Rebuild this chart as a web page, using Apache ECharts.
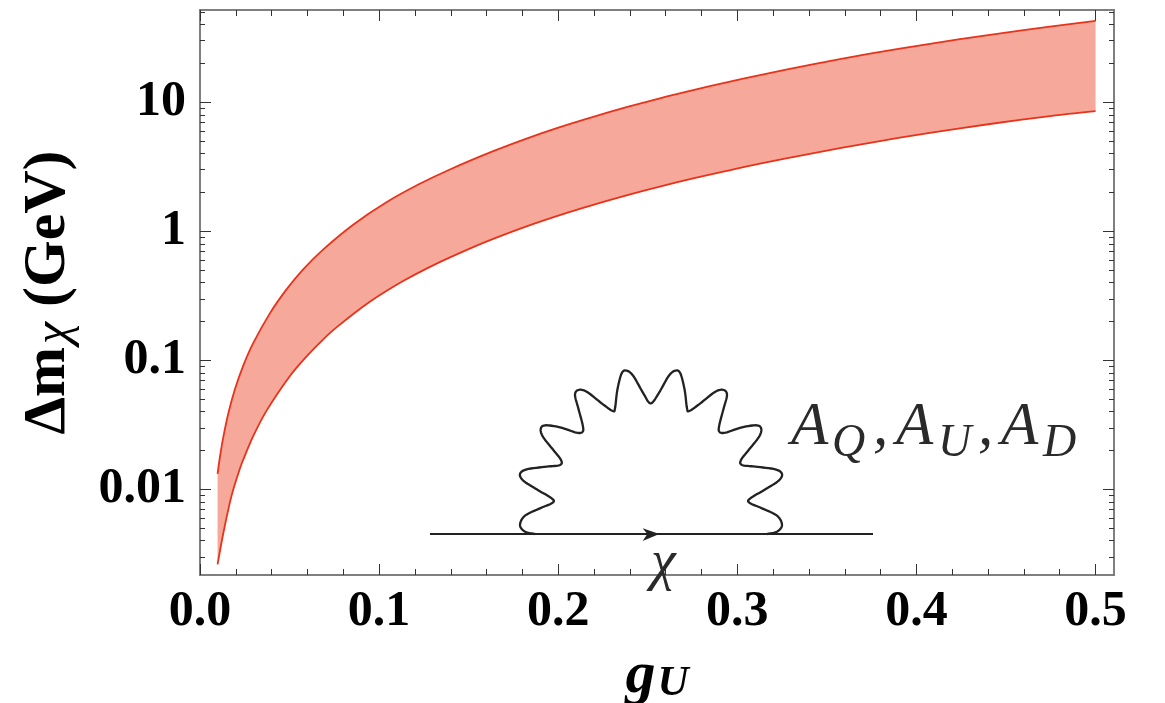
<!DOCTYPE html>
<html><head><meta charset="utf-8">
<style>html,body{margin:0;padding:0;background:#fff}#c{width:1165px;height:703px}</style>
<script src="https://cdn.jsdelivr.net/npm/echarts@6/dist/echarts.min.js"></script>
</head><body><div id="c"></div>
<script>
const upperG = [0.0098,0.0111,0.0129,0.0157,0.0194,0.0241,0.0297,0.0390,0.0483,0.0576,0.0687,0.0855,0.1041,0.1227,0.1395,0.1637,0.1823,0.2009,0.2195,0.2381,0.2567,0.2753,0.2940,0.3126,0.3405,0.3740,0.4075,0.4410,0.4745,0.5];
const upperV = [0.01316,0.01774,0.02496,0.03821,0.0591,0.0906,0.1358,0.2312,0.3546,0.5076,0.7221,1.126,1.680,2.334,3.016,4.180,5.234,6.417,7.709,9.156,10.74,12.43,14.26,16.22,19.48,23.78,28.40,33.35,38.61,42.75];
const lowerG = [0.0098,0.0129,0.0166,0.0189,0.0222,0.0241,0.0297,0.0371,0.0501,0.0585,0.0687,0.0762,0.0948,0.1134,0.1321,0.1506,0.1637,0.1823,0.2009,0.2195,0.2381,0.2567,0.2753,0.2940,0.3126,0.3405,0.3740,0.4075,0.4410,0.4745,0.5];
const lowerV = [0.00262,0.00449,0.00783,0.01032,0.01439,0.01696,0.02585,0.0406,0.0753,0.1037,0.1449,0.180,0.284,0.4115,0.5619,0.7348,0.8737,1.093,1.336,1.604,1.899,2.221,2.569,2.939,3.342,3.988,4.853,5.795,6.787,7.813,8.525];
const xMajor = [0,0.1,0.2,0.3,0.4,0.5];
const xMinor = [0.02,0.04,0.06,0.08,0.12,0.14,0.16,0.18,0.22,0.24,0.26,0.28,0.32,0.34,0.36,0.38,0.42,0.44,0.46,0.48];
const yMajor = [0.01,0.1,1,10];
const yMinor = [0.003,0.004,0.005,0.006,0.007,0.008,0.009,0.02,0.03,0.04,0.05,0.06,0.07,0.08,0.09,0.2,0.3,0.4,0.5,0.6,0.7,0.8,0.9,2,3,4,5,6,7,8,9,20,30,40,50];
const xRange = [0,0.5103];
const yRange = [0.00217,51.9];

const serif = '"Liberation Serif","Times New Roman",serif';
const lineCol = '#e8331a', fillCol = '#f6a89b', tickCol = '#333', frameCol = '#777';

function xAxisOf(pos, vals, len, withLabel) {
  const a = {type:'value', position:pos, min:xRange[0], max:xRange[1], splitLine:{show:false},
    axisLine:{show:true, onZero:false, lineStyle:{color:frameCol,width:1.5}},
    axisTick:{show:true, inside:true, length:len, customValues:vals, lineStyle:{color:tickCol,width:1}},
    axisLabel:{show:false}};
  if (withLabel) {
    a.axisLabel = {show:true, customValues:xMajor, margin:12, color:'#000', fontFamily:serif, fontWeight:'bold', fontSize:50,
      formatter:v=>Number(v).toFixed(1), hideOverlap:false, showMinLabel:true, showMaxLabel:true};
    a.name = '{g|g}{u|U}'; a.nameLocation='middle'; a.nameGap=71;
    a.nameTextStyle = {rich:{g:{fontFamily:serif,fontWeight:'bold',fontStyle:'italic',fontSize:60,color:'#000'},
      u:{fontFamily:serif,fontWeight:'bold',fontStyle:'italic',fontSize:43,color:'#000',padding:[16,0,0,2]}}};
  }
  return a;
}
function yAxisOf(pos, vals, len, withLabel) {
  const a = {type:'log', logBase:10, position:pos, min:yRange[0], max:yRange[1], splitLine:{show:false}, minorTick:{show:false},
    axisLine:{show:true, onZero:false, lineStyle:{color:frameCol,width:1.5}},
    axisTick:{show:true, inside:true, length:len, customValues:vals, lineStyle:{color:tickCol,width:1}},
    axisLabel:{show:false}};
  if (withLabel) {
    a.axisLabel = {show:true, customValues:yMajor, margin:14, color:'#000', fontFamily:serif, fontWeight:'bold', fontSize:50,
      padding:[0,0,12,0], formatter:v=>String(+Number(v).toPrecision(3)), hideOverlap:false};
    a.name = '{b|Δm}{c|χ}{b| (GeV)}'; a.nameLocation='middle'; a.nameGap=120; a.nameRotate=90;
    a.nameTextStyle = {rich:{b:{fontFamily:serif,fontWeight:'bold',fontSize:60,color:'#000'},
      c:{fontFamily:serif,fontStyle:'italic',fontSize:50,color:'#000',padding:[14,0,0,3]}}};
  }
  return a;
}

// Inset Feynman diagram (annotation, not data): loop half outline, mirrored
const P = (x,y)=>[420+x/3, 350+y/3];
const half = [[345,552],[315,545],[300,525],[315,497],[360,475],[398,458],[395,445],[350,418],[310,392],[300,372],[320,358],[380,350],[420,345],[423,330],[400,300],[370,262],[362,238],[375,226],[420,232],[470,248],[488,245],[488,225],[475,175],[465,135],[475,120],[500,125],[545,160],[578,183],[585,175],[592,120],[605,70],[620,62],[640,78],[670,130],[692,160]];
const mirror = half.slice(0,-1).reverse().map(p=>[1386-p[0],p[1]]);
const loopPts = half.concat(mirror).map(p=>P(p[0],p[1]));
function catmull(pts){
  const out=[pts[0]];
  for(let i=0;i<pts.length-1;i++){
    const p0=pts[Math.max(0,i-1)],p1=pts[i],p2=pts[i+1],p3=pts[Math.min(pts.length-1,i+2)];
    for(let k=1;k<=8;k++){
      const t=k/8,t2=t*t,t3=t2*t;
      out.push([0,1].map(j=>0.5*(2*p1[j]+(p2[j]-p0[j])*t+(2*p0[j]-5*p1[j]+4*p2[j]-p3[j])*t2+(3*p1[j]-p0[j]-3*p2[j]+p3[j])*t3)));
    }
  }
  return out;
}
const inset = '#222';
const insetLabels = [['A',791,458,61],['Q',832,467,46],[',',873,458,61],['A',896,458,61],['U',938,467,46],[',',978,458,61],['A',1001,458,61],['D',1043,467,46],['χ',651,592,56]];
const graphicEls = [
  {type:'polyline', z:20, silent:true, shape:{points:catmull(loopPts)}, style:{fill:null, stroke:inset, lineWidth:2.3}},
  {type:'line', z:20, silent:true, shape:{x1:430,y1:534,x2:873,y2:534}, style:{stroke:inset, lineWidth:2.2}},
  {type:'polygon', z:21, silent:true, shape:{points:[P(718,552),P(668,535),P(682,552),P(668,573)]}, style:{fill:inset}}
].concat(insetLabels.map(t=>({type:'text', z:21, silent:true, x:t[1], y:t[2], style:{text:t[0], fill:'#2a2a2a', fontFamily:serif, fontStyle:'italic', fontSize:t[3], textAlign:'left', textVerticalAlign:'bottom', verticalAlign:'bottom'}})));

const chart = echarts.init(document.getElementById('c'));
chart.setOption({
  animation:false, backgroundColor:'#fff',
  grid:{left:200, right:51, top:10, bottom:128, containLabel:false, outerBoundsMode:'none'},
  xAxis:[xAxisOf('bottom',xMajor,11,true), xAxisOf('bottom',xMinor,6,false), xAxisOf('top',xMajor,11,false), xAxisOf('top',xMinor,6,false)],
  yAxis:[yAxisOf('left',yMajor,11,true), yAxisOf('left',yMinor,5,false), yAxisOf('right',yMajor,11,false), yAxisOf('right',yMinor,5,false)],
  graphic:graphicEls,
  series:[
    {type:'custom', xAxisIndex:0, yAxisIndex:0, z:1, silent:true, data:[[upperG[0],upperV[0]]], clip:true,
      renderItem:(params,api)=>{
        const pts=[];
        upperG.forEach((g,i)=>pts.push(api.coord([g,upperV[i]])));
        for(let i=lowerG.length-1;i>=0;i--) pts.push(api.coord([lowerG[i],lowerV[i]]));
        return {type:'polygon', shape:{points:pts}, style:{fill:fillCol, stroke:null}};
      }},
    {type:'line', xAxisIndex:0, yAxisIndex:0, z:2, name:'upper', showSymbol:false, smooth:0.3, data:upperG.map((g,i)=>[g,upperV[i]]), lineStyle:{color:lineCol,width:1.8}},
    {type:'line', xAxisIndex:0, yAxisIndex:0, z:2, name:'lower', showSymbol:false, smooth:0.3, data:lowerG.map((g,i)=>[g,lowerV[i]]), lineStyle:{color:lineCol,width:1.8}}
  ]
});
</script></body></html>
